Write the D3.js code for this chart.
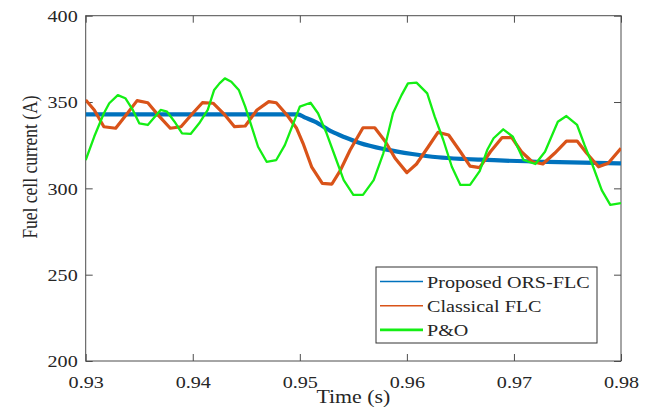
<!DOCTYPE html>
<html>
<head>
<meta charset="utf-8">
<script src="https://cdn.jsdelivr.net/npm/d3@7"></script>
<style>
  html, body { margin: 0; padding: 0; background: #fff; }
  svg { display: block; }
  text { font-family: "Liberation Serif", "Times New Roman", serif; fill: #262626; }
</style>
</head>
<body>
<svg id="chart" width="651" height="408"></svg>
<script>
// ---- data ----
const timeTicks = [0.93, 0.94, 0.95, 0.96, 0.97, 0.98];
const currentTicks = [200, 250, 300, 350, 400];
const seriesNames = ["Proposed ORS-FLC", "Classical FLC", "P&O"];
const seriesColors = ["#0072BD", "#D95319", "#14EE14"];

const orsTime  = [0.9300, 0.9498, 0.9505, 0.9514, 0.9530, 0.9542, 0.9556, 0.9580, 0.9605, 0.9629, 0.9654, 0.9668, 0.9731, 0.9800];
const orsValue = [342.9, 342.9, 341.0, 338.6, 332.8, 329.6, 326.3, 322.6, 319.9, 318.0, 317.0, 316.6, 315.3, 314.5];

const flcTime  = [0.9300,0.9308,0.9317,0.9328,0.9339,0.9348,0.9358,0.9369,0.9379,0.9389,
                  0.9400,0.9409,0.9419,0.9430,0.9439,0.9449,0.9460,0.9471,0.9478,0.9488,
                  0.9497,0.9503,0.9511,0.9521,0.9530,0.9538,0.9547,0.9559,0.9570,0.9580,
                  0.9589,0.9600,0.9609,0.9620,0.9629,0.9639,0.9650,0.9659,0.9668,0.9678,
                  0.9689,0.9698,0.9707,0.9717,0.9727,0.9738,0.9749,0.9759,0.9768,0.9779,
                  0.9788,0.9800];
const flcValue = [351.2,345.4,335.7,334.8,343.5,350.8,349.6,341.5,334.8,335.7,
                  343.5,349.6,349.3,342.5,335.7,336.1,345.4,350.2,349.6,342.5,
                  334.8,326.1,312.5,302.9,302.5,310.6,322.2,335.1,335.1,327.0,
                  317.4,309.1,314.1,324.1,332.4,330.9,321.2,312.9,312.0,321.2,
                  329.4,329.4,321.2,315.4,314.1,320.3,327.4,327.4,320.3,312.5,
                  314.5,323.2];

const poTime  = [0.9300,0.9308,0.9317,0.9322,0.9330,0.9337,0.9344,0.9350,0.9358,0.9370,
                 0.9376,0.9383,0.9390,0.9398,0.9406,0.9414,0.9420,0.9425,0.9430,0.9436,
                 0.9443,0.9449,0.9455,0.9461,0.9469,0.9478,0.9486,0.9494,0.9500,0.9510,
                 0.9517,0.9525,0.9533,0.9541,0.9550,0.9559,0.9569,0.9578,0.9587,0.9595,
                 0.9601,0.9609,0.9619,0.9626,0.9634,0.9642,0.9650,0.9659,0.9668,0.9675,
                 0.9681,0.9690,0.9699,0.9709,0.9720,0.9729,0.9735,0.9741,0.9749,0.9759,
                 0.9766,0.9774,0.9782,0.9790,0.9800];
const poValue = [316.4,330.0,343.5,349.3,354.0,352.2,345.4,337.7,336.7,345.4,
                 344.4,338.6,331.9,331.5,337.7,345.4,357.0,360.8,363.7,361.8,
                 357.0,347.3,335.7,324.1,315.4,316.4,325.0,337.7,347.3,349.6,
                 343.5,331.9,318.3,304.8,296.2,296.2,304.8,320.3,343.5,354.0,
                 360.8,361.2,355.0,341.5,328.0,312.5,302.0,302.0,310.0,322.2,
                 329.0,334.2,329.9,316.4,314.1,321.2,329.9,338.6,341.9,336.7,
                 325.0,312.5,299.0,290.4,291.4];

// ---- layout ----
const L = 85.7, R = 621, T = 15.7, B = 361;
const SX = 1.15; // horizontal stretch of the reference's text
const svg = d3.select("#chart");

const x = d3.scaleLinear().domain([0.93, 0.98]).range([L, R]);
const y = d3.scaleLinear().domain([200, 400]).range([B, T]);

svg.append("defs").append("clipPath").attr("id", "clip")
  .append("rect").attr("x", L).attr("y", T).attr("width", R - L).attr("height", B - T);

const axisColor = "#4d4d4d";
const tickLen = 7;

// bottom axis
const gx = svg.append("g").attr("transform", `translate(0,${B})`)
  .call(d3.axisBottom(x).tickValues(timeTicks).tickFormat(d3.format(".2f")).tickSizeInner(-tickLen).tickSizeOuter(0).tickPadding(10));
gx.select(".domain").remove();
gx.selectAll(".tick line").attr("stroke", axisColor);
gx.selectAll(".tick text").attr("font-size", 17.5).attr("font-family", "Liberation Serif").attr("fill", "#262626")
  .attr("y", 0).attr("dy", 0).attr("transform", `translate(0,27) scale(${SX},1)`);

// top ticks
const gxt = svg.append("g").attr("transform", `translate(0,${T})`)
  .call(d3.axisTop(x).tickValues(timeTicks).tickFormat("").tickSizeInner(-tickLen).tickSizeOuter(0));
gxt.select(".domain").remove();
gxt.selectAll(".tick line").attr("stroke", axisColor);

// left axis
const gy = svg.append("g").attr("transform", `translate(${L},0)`)
  .call(d3.axisLeft(y).tickValues(currentTicks).tickFormat(d3.format("d")).tickSizeInner(-tickLen).tickSizeOuter(0));
gy.select(".domain").remove();
gy.selectAll(".tick line").attr("stroke", axisColor);
gy.selectAll(".tick text").attr("font-size", 17.5).attr("font-family", "Liberation Serif").attr("fill", "#262626")
  .attr("x", 0).attr("dy", "0.34em").attr("transform", `translate(-8,0) scale(${SX},1)`);

// right ticks
const gyr = svg.append("g").attr("transform", `translate(${R},0)`)
  .call(d3.axisRight(y).tickValues(currentTicks).tickFormat("").tickSizeInner(-tickLen).tickSizeOuter(0));
gyr.select(".domain").remove();
gyr.selectAll(".tick line").attr("stroke", axisColor);

// box
svg.append("rect").attr("x", L).attr("y", T).attr("width", R - L).attr("height", B - T)
  .attr("fill", "none").attr("stroke", axisColor).attr("stroke-width", 1);

// lines
const plot = svg.append("g").attr("clip-path", "url(#clip)");
const series = [
  { t: orsTime, v: orsValue, w: 4.2, curve: d3.curveMonotoneX },
  { t: flcTime, v: flcValue, w: 3.2, curve: d3.curveLinear },
  { t: poTime,  v: poValue,  w: 2.3, curve: d3.curveLinear }
];
series.forEach((s, i) => {
  const pts = s.t.map((t, k) => [t, s.v[k]]);
  plot.append("path")
    .attr("d", d3.line().x(d => x(d[0])).y(d => y(d[1])).curve(s.curve)(pts))
    .attr("fill", "none").attr("stroke", seriesColors[i]).attr("stroke-width", s.w)
    .attr("stroke-linejoin", "round").attr("stroke-linecap", "butt");
});

// axis labels
svg.append("text").attr("font-size", 19).attr("text-anchor", "middle")
  .attr("transform", `translate(${(L + R) / 2},403) scale(${SX},1)`).text("Time (s)");
svg.append("text").attr("font-size", 17.5).attr("text-anchor", "middle")
  .attr("transform", `translate(37,167) rotate(-90) scale(1,${SX})`).text("Fuel cell current (A)");

// legend
const lg = svg.append("g");
lg.append("rect").attr("x", 376).attr("y", 267).attr("width", 221).attr("height", 76)
  .attr("fill", "#fff").attr("stroke", "#333").attr("stroke-width", 1);
const legW = [1.6, 1.6, 2.6];
seriesNames.forEach((name, i) => {
  const cy = 281.5 + i * 24.2;
  lg.append("line").attr("x1", 380).attr("x2", 423).attr("y1", cy).attr("y2", cy)
    .attr("stroke", seriesColors[i]).attr("stroke-width", legW[i]);
  lg.append("text").attr("font-size", 17.5)
    .attr("transform", `translate(427,${cy + 6}) scale(${SX},1)`).text(name);
});
</script>
</body>
</html>
